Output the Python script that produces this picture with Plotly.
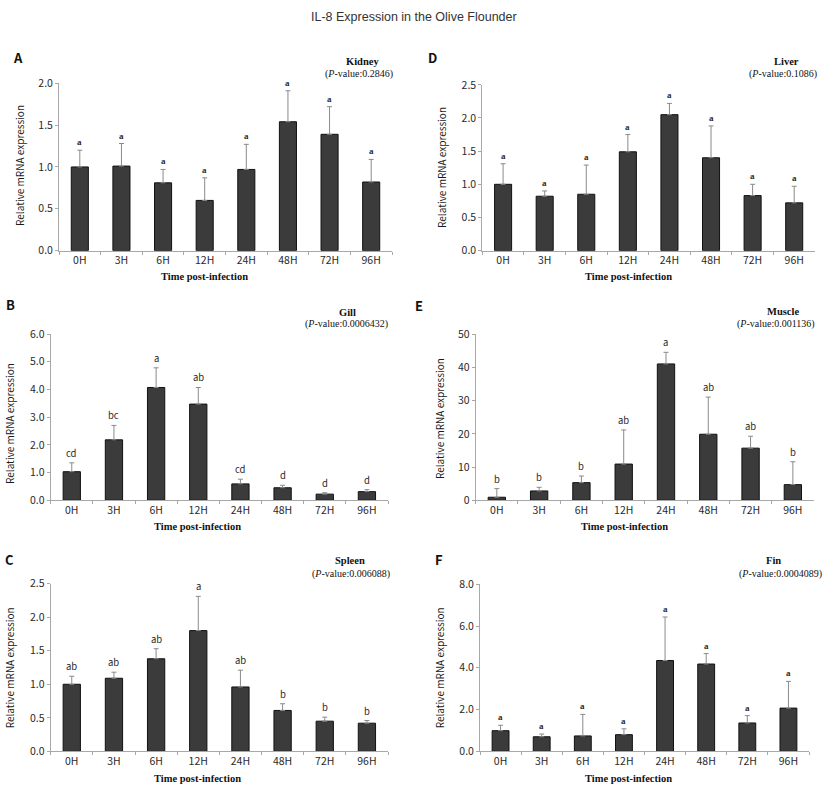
import plotly.graph_objects as go

W, H = 827, 794

categories = ["0H", "3H", "6H", "12H", "24H", "48H", "72H", "96H"]

kidney_mean = [1.00, 1.01, 0.81, 0.60, 0.97, 1.54, 1.39, 0.82]
kidney_upper = [1.20, 1.28, 0.97, 0.87, 1.27, 1.91, 1.72, 1.09]
kidney_letters = ["a", "a", "a", "a", "a", "a", "a", "a"]

liver_mean = [1.00, 0.82, 0.85, 1.49, 2.05, 1.40, 0.83, 0.72]
liver_upper = [1.31, 0.90, 1.29, 1.75, 2.22, 1.88, 1.00, 0.97]
liver_letters = ["a", "a", "a", "a", "a", "a", "a", "a"]

gill_mean = [1.03, 2.18, 4.07, 3.47, 0.59, 0.45, 0.22, 0.31]
gill_upper = [1.35, 2.70, 4.78, 4.07, 0.76, 0.54, 0.27, 0.38]
gill_letters = ["cd", "bc", "a", "ab", "cd", "d", "d", "d"]

muscle_mean = [0.9, 2.8, 5.3, 10.9, 41.1, 19.9, 15.7, 4.7]
muscle_upper = [3.5, 3.9, 7.3, 21.2, 44.6, 31.1, 19.3, 11.6]
muscle_letters = ["b", "b", "b", "ab", "a", "ab", "ab", "b"]

spleen_mean = [1.00, 1.09, 1.38, 1.80, 0.96, 0.61, 0.45, 0.42]
spleen_upper = [1.12, 1.18, 1.53, 2.31, 1.21, 0.71, 0.51, 0.46]
spleen_letters = ["ab", "ab", "ab", "a", "ab", "b", "b", "b"]

fin_mean = [0.99, 0.70, 0.74, 0.80, 4.35, 4.18, 1.36, 2.07]
fin_upper = [1.25, 0.83, 1.77, 1.08, 6.43, 4.68, 1.71, 3.35]
fin_letters = ["a", "a", "a", "a", "a", "a", "a", "a"]

tissues = ["Kidney", "Gill", "Spleen", "Liver", "Muscle", "Fin"]
panel_letters = ["A", "B", "C", "D", "E", "F"]
p_values = ["0.2846", "0.0006432", "0.006088", "0.1086", "0.001136", "0.0004089"]
y_max = [2.0, 6.0, 2.5, 2.5, 50, 8.0]
y_dtick = [0.5, 1.0, 0.5, 0.5, 10, 2.0]
y_fmt = [".1f", ".1f", ".1f", ".1f", "d", ".1f"]
means = [kidney_mean, gill_mean, spleen_mean, liver_mean, muscle_mean, fin_mean]
uppers = [kidney_upper, gill_upper, spleen_upper, liver_upper, muscle_upper, fin_upper]
letters = [kidney_letters, gill_letters, spleen_letters, liver_letters, muscle_letters, fin_letters]

# layout geometry in pixels (left, right, top, bottom)
boxes = [(59, 392, 76.7, 247.3), (50.7, 388, 332.3, 501.7), (50.7, 388, 586.7, 757.7),
         (482.3, 815, 78.3, 247.3), (475.7, 814, 332.7, 501.7), (480, 809, 587.3, 757.7)]
letter_pos = [(18, 50), (10, 302), (9, 562), (432, 50), (419, 303), (439, 562)]
tissue_pos = [(362, 55), (347, 310), (350, 563), (786, 55), (783, 309), (773, 563)]
pval_right = [(395, 67), (390, 322.5), (392, 577), (819, 67), (817, 321.7), (824, 577)]
xtitle_pos = [(204, 273.5), (197, 528), (197, 785), (628, 274), (624.5, 528), (628, 785)]
ytitle_pos = [(20, 161), (10, 424), (9, 673), (442, 163), (439, 419), (439, 673)]
sig_serif = [True, False, False, True, False, True]


def px(x):
    return x / W


def py(y):
    return 1 - y / H


fig = go.Figure()
annotations = []
layout_axes = {}

tick_font = dict(family="Noto Sans CJK KR, Noto Sans, sans-serif", size=10.5, color="#2a2a2a")

for i in range(6):
    n = "" if i == 0 else str(i + 1)
    l, r, t, b = boxes[i]
    err = [round(u - m, 4) for u, m in zip(uppers[i], means[i])]
    fig.add_trace(go.Bar(
        x=categories, y=means[i], xaxis="x" + n, yaxis="y" + n,
        marker=dict(color="#3b3b3b", line=dict(color="#111111", width=1)),
        width=0.41,
        error_y=dict(type="data", symmetric=False, array=err,
                     arrayminus=[0] * len(err), color="#8a8a8a", thickness=1, width=2.5),
        showlegend=False,
    ))
    layout_axes["xaxis" + n] = dict(
        domain=[px(l), px(r)], anchor="y" + n, range=[-0.5, 7.5],
        showline=True, linecolor="#a8a8a8", linewidth=1, ticks="outside", ticklen=3,
        tickcolor="#a8a8a8", tickson="boundaries", showgrid=False, zeroline=False,
        tickfont=tick_font, fixedrange=True,
    )
    layout_axes["yaxis" + n] = dict(
        domain=[py(b), py(t)], anchor="x" + n, range=[0, y_max[i]], dtick=y_dtick[i],
        tickformat=y_fmt[i], showline=True, linecolor="#a8a8a8", linewidth=1,
        ticks="outside", ticklen=3, tickcolor="#a8a8a8", showgrid=False,
        zeroline=False, tickfont=tick_font, fixedrange=True,
    )
    # significance letters
    sfam = "Liberation Serif, serif" if sig_serif[i] else "Noto Sans CJK KR, Noto Sans, sans-serif"
    for c, u, lt in zip(categories, uppers[i], letters[i]):
        annotations.append(dict(
            x=c, y=u, xref="x" + n, yref="y" + n, text=("<b>" + lt + "</b>") if sig_serif[i] else lt,
            showarrow=False, yanchor="bottom", yshift=1,
            font=dict(family=sfam, size=9 if sig_serif[i] else 9.5, color="#2a2a2a"),
        ))
    # panel letter
    annotations.append(dict(
        x=px(letter_pos[i][0]), y=py(letter_pos[i][1]), xref="paper", yref="paper",
        text="<b>" + panel_letters[i] + "</b>", showarrow=False, xanchor="center", yanchor="middle",
        font=dict(family="Noto Sans CJK KR, Noto Sans, sans-serif", size=13, color="#111111"),
    ))
    # tissue name
    annotations.append(dict(
        x=px(tissue_pos[i][0]), y=py(tissue_pos[i][1]), xref="paper", yref="paper",
        text="<b>" + tissues[i] + "</b>", showarrow=False, xanchor="center", yanchor="middle",
        font=dict(family="Liberation Serif, serif", size=10.5, color="#111111"),
    ))
    # p-value
    annotations.append(dict(
        x=px(pval_right[i][0]), y=py(pval_right[i][1]), xref="paper", yref="paper",
        text="(<i>P</i>-value:" + p_values[i] + ")", showarrow=False, xanchor="right", yanchor="middle",
        font=dict(family="Liberation Serif, serif", size=10, color="#111111"),
    ))
    # x title
    annotations.append(dict(
        x=px(xtitle_pos[i][0]), y=py(xtitle_pos[i][1]), xref="paper", yref="paper",
        text="<b>Time post-infection</b>", showarrow=False, xanchor="center", yanchor="middle",
        font=dict(family="Liberation Serif, serif", size=10.5, color="#111111"),
    ))
    # y title
    annotations.append(dict(
        x=px(ytitle_pos[i][0]), y=py(ytitle_pos[i][1]), xref="paper", yref="paper",
        text="Relative mRNA expression", showarrow=False, xanchor="center", yanchor="middle",
        textangle=-90,
        font=dict(family="Noto Sans CJK KR, Noto Sans, sans-serif", size=10, color="#1a1a1a"),
    ))

annotations.append(dict(
    x=0.5, y=py(9), xref="paper", yref="paper", text="IL-8 Expression in the Olive Flounder",
    showarrow=False, xanchor="center", yanchor="middle",
    font=dict(family="Liberation Sans, Arial, sans-serif", size=12.5, color="#333333"),
))

fig.update_layout(
    width=W, height=H, margin=dict(l=0, r=0, t=0, b=0),
    paper_bgcolor="white", plot_bgcolor="white",
    annotations=annotations, showlegend=False, bargap=0.59,
    **layout_axes,
)

fig.write_html(
    "out.html",
    config={"displayModeBar": False},
    post_script="document.body.style.margin='0';document.body.style.overflow='hidden';",
)
